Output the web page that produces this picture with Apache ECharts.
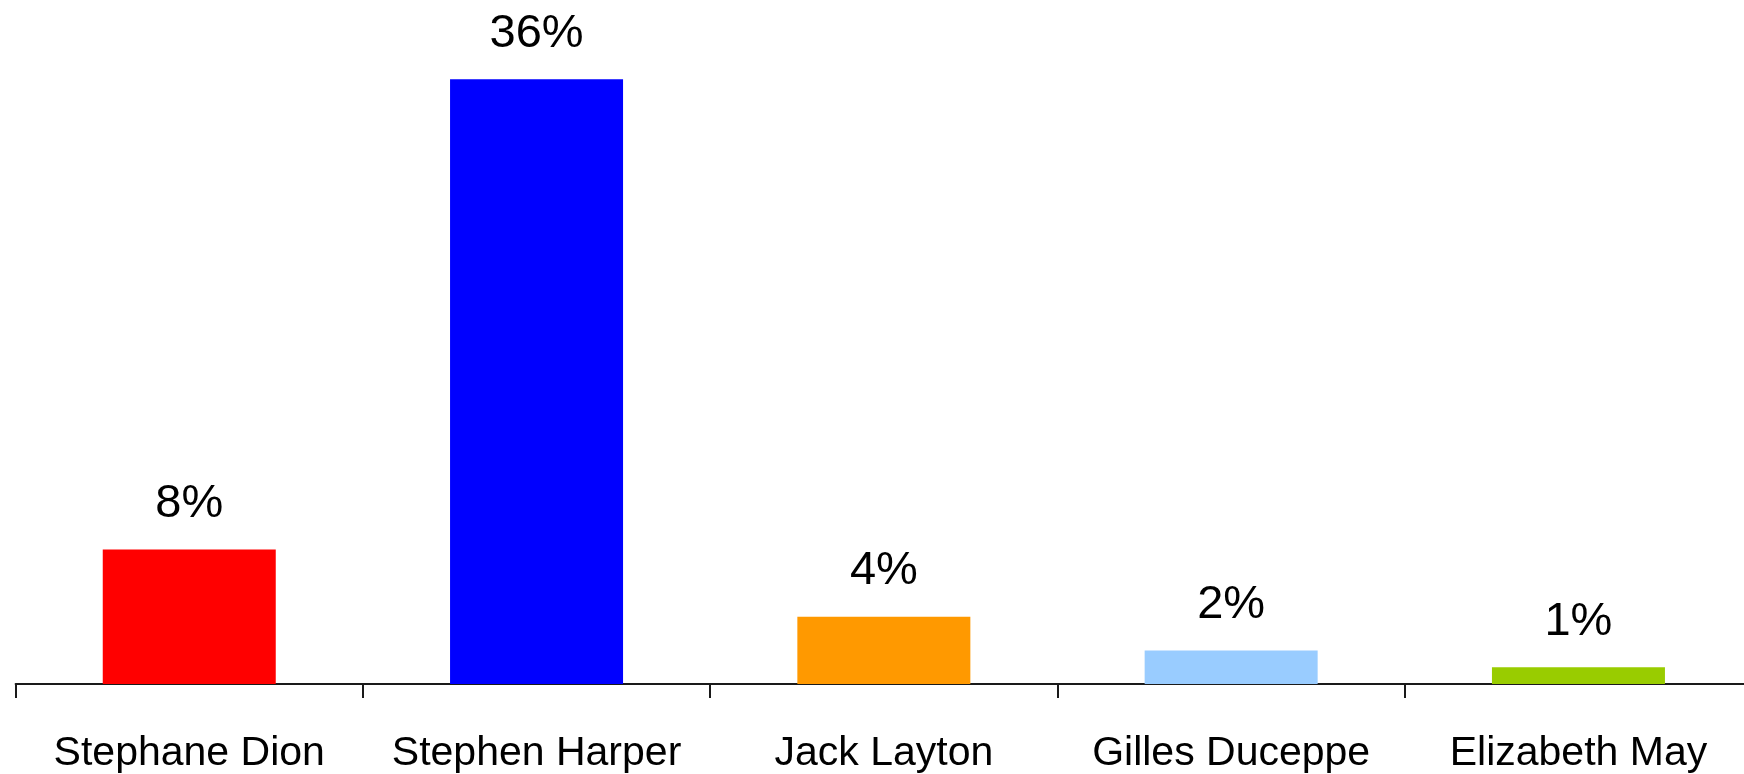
<!DOCTYPE html>
<html>
<head>
<meta charset="utf-8">
<script src="https://cdn.jsdelivr.net/npm/echarts@6/dist/echarts.min.js"></script>
<style>
html,body{margin:0;padding:0;background:#fff;overflow:hidden;}
#chart{width:1760px;height:774px;}
</style>
</head>
<body>
<div id="chart"></div>
<script>
const categories = ['Stephane Dion', 'Stephen Harper', 'Jack Layton', 'Gilles Duceppe', 'Elizabeth May'];
const values = [8, 36, 4, 2, 1];
const colors = ['#FF0000', '#0000FF', '#FF9900', '#99CCFF', '#99CC00'];

const chart = echarts.init(document.getElementById('chart'));
chart.setOption({
  animation: false,
  backgroundColor: '#ffffff',
  grid: { left: 15.6, width: 1736.5, top: 12, bottom: 90, containLabel: false },
  xAxis: {
    type: 'category',
    data: categories,
    axisLine: { show: true, lineStyle: { color: '#1a1a1a', width: 2 } },
    axisTick: { show: true, alignWithLabel: false, length: 14, lineStyle: { color: '#1a1a1a', width: 2 } },
    axisLabel: { interval: 0, color: '#000', fontFamily: 'Liberation Sans, Arial, sans-serif', fontSize: 41, margin: 49 },
    splitLine: { show: false }
  },
  yAxis: {
    type: 'value', min: 0, max: 40, show: false,
    splitLine: { show: false }
  },
  series: [{
    type: 'bar',
    data: values.map((v, i) => ({ value: v, itemStyle: { color: colors[i] } })),
    barWidth: 173,
    label: {
      show: true,
      position: 'top',
      distance: 22,
      formatter: '{c}%',
      color: '#000',
      fontFamily: 'Liberation Sans, Arial, sans-serif',
      fontSize: 47
    }
  }]
});
</script>
</body>
</html>
